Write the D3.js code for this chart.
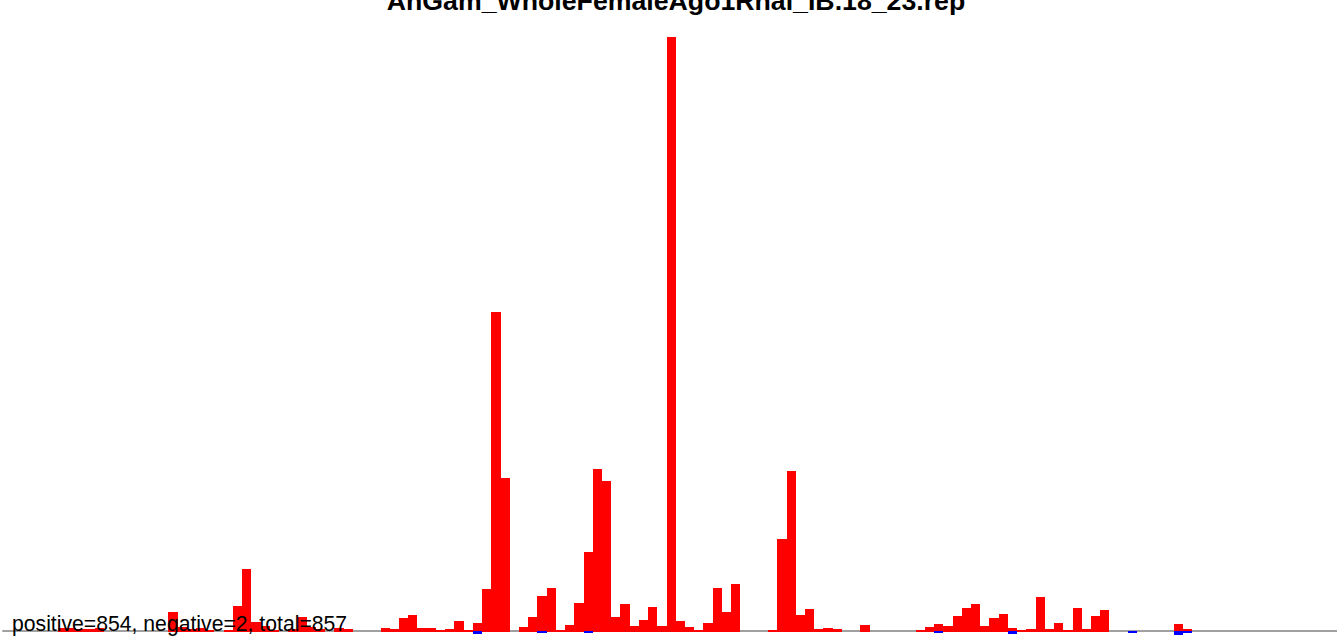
<!DOCTYPE html>
<html>
<head>
<meta charset="utf-8">
<script src="https://cdn.jsdelivr.net/npm/d3@7"></script>
<style>
  body { margin: 0; background: #fff; overflow: hidden; }
  svg { display: block; }
</style>
</head>
<body>
<div id="chart"></div>
<script>
// chart title and summary line
const title = "AnGam_WholeFemaleAgo1Rnai_IB.18_23.rep";
const summary = "positive=854, negative=2, total=857";

// number of bins along the x axis
const binCount = 145;

// positive (red) bar heights per bin
const positive = [
  0, 0, 0, 0, 0, 0, 3, 3, 2, 2,
  3, 0, 0, 0, 0, 0, 0, 0, 19, 4,
  2, 3, 1, 0, 1, 25, 62, 9, 5, 1,
  0, 2, 14, 4, 2, 0, 3, 2, 0, 0,
  0, 3, 2, 13, 16, 3, 3, 1, 2, 10,
  1, 8, 42, 319, 153, 0, 4, 14, 35, 43,
  1, 6, 28, 79, 162, 150, 14, 27, 5, 11,
  24, 5, 594, 10, 4, 1, 8, 43, 19, 47,
  0, 0, 0, 1, 92, 160, 16, 22, 2, 3,
  2, 0, 0, 6, 0, 0, 0, 0, 0, 1,
  4, 7, 5, 15, 23, 27, 5, 13, 17, 3,
  1, 2, 34, 2, 8, 1, 23, 2, 15, 21,
  0, 0, 0, 0, 0, 0, 0, 7, 2, 0,
  0, 0, 0, 0, 0, 0, 0, 0, 0, 0,
  0, 0, 0, 0, 0
];

// negative (blue) bars: bin index and height below the baseline
const negBins = [51, 58, 63, 101, 109, 122, 127, 128];
const negValues = [2.5, 1, 1, 1, 2, 1, 3, 1];

const width = 1337;
const height = 636;

const svg = d3.select("#chart")
  .append("svg")
  .attr("width", width)
  .attr("height", height);

// bins are contiguous, no padding
const x = d3.scaleLinear()
  .domain([0, binCount])
  .range([2.3, 2.3 + binCount * 9.226]);

const y = d3.scaleLinear()
  .domain([0, d3.max(positive)])
  .range([631.5, 37]);

// gray baseline
svg.append("line")
  .attr("x1", x(0))
  .attr("x2", width)
  .attr("y1", 631)
  .attr("y2", 631)
  .attr("stroke", "#a0a0a0")
  .attr("stroke-width", 2);

// red bars
svg.selectAll("rect.pos")
  .data(positive.map((v, i) => ({ i, v })).filter(d => d.v > 0))
  .join("rect")
  .attr("class", "pos")
  .attr("x", d => x(d.i))
  .attr("width", d => x(d.i + 1) - x(d.i))
  .attr("y", d => y(d.v))
  .attr("height", d => y(0) - y(d.v) + 0.5)
  .attr("fill", "#ff0000")
  .attr("shape-rendering", "crispEdges");

// blue bars below the line
svg.selectAll("rect.neg")
  .data(negBins.map((b, k) => ({ i: b, v: negValues[k] })))
  .join("rect")
  .attr("class", "neg")
  .attr("x", d => x(d.i))
  .attr("width", d => x(d.i + 1) - x(d.i))
  .attr("y", 630.5)
  .attr("height", d => y(-d.v) - y(0) + 1)
  .attr("fill", "#0000ff")
  .attr("shape-rendering", "crispEdges");

// title, partly cut off at the top
svg.append("text")
  .attr("x", 676)
  .attr("y", 10)
  .attr("text-anchor", "middle")
  .style("font-family", "'Liberation Sans', Arial, sans-serif")
  .style("font-weight", "bold")
  .style("font-size", "26.7px")
  .text(title);

// summary line bottom-left
svg.append("text")
  .attr("x", 12)
  .attr("y", 631)
  .style("font-family", "'Liberation Sans', Arial, sans-serif")
  .style("font-size", "21.2px")
  .attr("fill", "#000")
  .text(summary);
</script>
</body>
</html>
